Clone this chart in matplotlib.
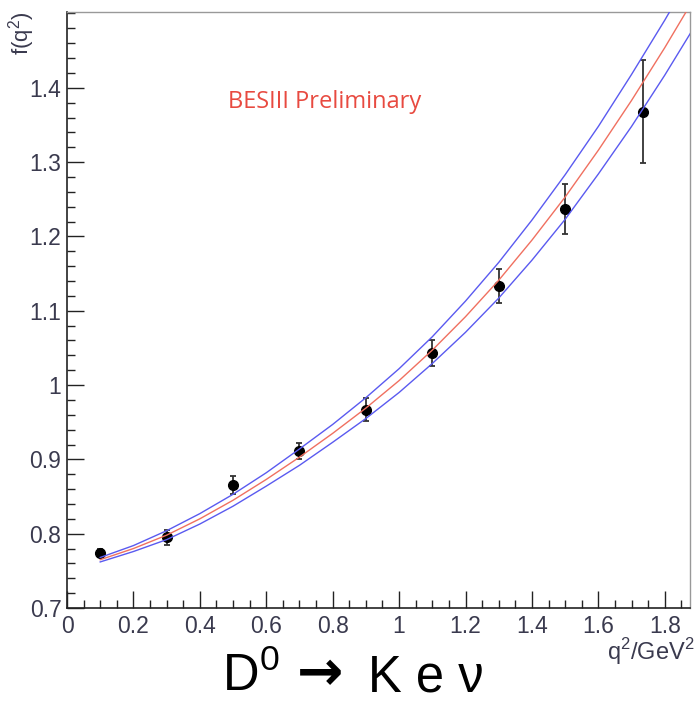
import matplotlib
matplotlib.use("Agg")
import matplotlib.pyplot as plt
from matplotlib.ticker import MultipleLocator, FuncFormatter

plt.rcParams['font.family'] = ['Liberation Sans', 'DejaVu Sans']
plt.rcParams['mathtext.fontset'] = 'custom'
plt.rcParams['mathtext.rm'] = 'Liberation Sans'

# data points
q2 = [0.1, 0.3, 0.5, 0.7, 0.9, 1.1, 1.3, 1.5, 1.735]
fq2 = [0.774, 0.795, 0.866, 0.911, 0.967, 1.043, 1.133, 1.237, 1.368]
ferr = [0.006, 0.010, 0.012, 0.011, 0.016, 0.018, 0.023, 0.034, 0.069]

# fit curves
curve_q2 = [0.1, 0.2, 0.3, 0.4, 0.5, 0.6, 0.7, 0.8, 0.9, 1.0,
            1.1, 1.2, 1.3, 1.4, 1.5, 1.6, 1.7, 1.8, 1.9]
curve_fit = [0.765, 0.780, 0.798, 0.820, 0.845, 0.873, 0.903, 0.935, 0.969, 1.006,
             1.047, 1.092, 1.141, 1.195, 1.253, 1.316, 1.383, 1.454, 1.529]
curve_up = [0.768, 0.784, 0.804, 0.827, 0.853, 0.882, 0.914, 0.947, 0.983, 1.022,
            1.065, 1.113, 1.165, 1.222, 1.283, 1.348, 1.418, 1.491, 1.568]
curve_lo = [0.762, 0.776, 0.792, 0.813, 0.837, 0.864, 0.892, 0.923, 0.955, 0.990,
            1.029, 1.071, 1.117, 1.168, 1.223, 1.284, 1.348, 1.417, 1.490]

yticks = [0.7, 0.8, 0.9, 1.0, 1.1, 1.2, 1.3, 1.4]
xticks = [0, 0.2, 0.4, 0.6, 0.8, 1.0, 1.2, 1.4, 1.6, 1.8]

fig = plt.figure(figsize=(6.96, 7.03), dpi=100)
ax = fig.add_axes([67/696, 1-608/703, (690-67)/696, (608-12)/703])

ax.errorbar(q2, fq2, yerr=ferr, fmt='o', color='black', ms=7,
            ecolor='#333333', elinewidth=1.3, capsize=2.5, capthick=1.3, zorder=2)
ax.plot(curve_q2, curve_up, color='#5a5af0', lw=1.0, zorder=3)
ax.plot(curve_q2, curve_lo, color='#5a5af0', lw=1.0, zorder=3)
ax.plot(curve_q2, curve_fit, color='#f07060', lw=1.0, zorder=3)

ax.set_xlim(0, 1.876)
ax.set_ylim(0.7, 1.502)
ax.set_xticks(xticks)
ax.set_yticks(yticks)
ax.xaxis.set_minor_locator(MultipleLocator(0.05))
ax.yaxis.set_minor_locator(MultipleLocator(0.02))
fmt = FuncFormatter(lambda v, p: ('%g' % round(v, 2)))
ax.xaxis.set_major_formatter(fmt)
ax.yaxis.set_major_formatter(fmt)

ax.tick_params(axis='both', which='major', direction='in', length=12, width=1.0,
               labelsize=16.5, labelcolor='#3a3a4e', color='#222222')
ax.tick_params(axis='both', which='minor', direction='in', length=6, width=1.0,
               color='#222222')
ax.tick_params(axis='x', which='major', pad=5)
ax.tick_params(axis='y', which='major', pad=4)
ax.tick_params(top=False, right=False, which='both')

for s in ['left', 'bottom']:
    ax.spines[s].set_color('#222222')
    ax.spines[s].set_linewidth(1.2)
for s in ['top', 'right']:
    ax.spines[s].set_color('#999999')
    ax.spines[s].set_linewidth(1.0)

fig.text(228/696, 1-108/703, 'BESIII Preliminary', fontfamily=['Open Sans', 'DejaVu Sans'],
         fontsize=17, color='#e84a40', ha='left', va='baseline')

fig.text(22/696, 1-12/703, r'f(q$^{\mathregular{2}}$)', rotation=90, ha='center', va='top',
         fontsize=16, color='#3a3a4e')
fig.text(695/696, 1-660/703, r'q$^{\mathregular{2}}$/GeV$^{\mathregular{2}}$', ha='right',
         va='baseline', fontsize=17, color='#3a3a4e')

fig.text(222/696, 1-691/703, r'D$^{\mathregular{0}}$', ha='left', va='baseline',
         fontsize=36.5, color='black')
fig.text(320/696, 1-675/703, '→', ha='center', va='center', fontfamily='DejaVu Sans',
         fontweight='bold', fontsize=40, color='black')
fig.text(368/696, 1-691/703, 'K e ν', ha='left', va='baseline',
         fontsize=36.5, color='black')

fig.savefig('out.png', dpi=100)
